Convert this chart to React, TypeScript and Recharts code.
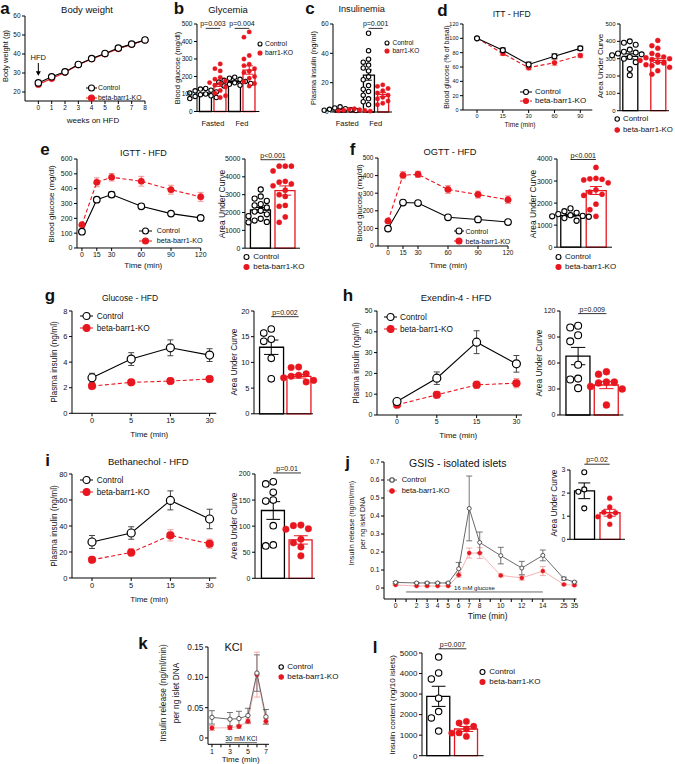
import React from "react";
import {
  LineChart,
  ComposedChart,
  Line,
  Bar,
  Cell,
  Scatter,
  XAxis,
  YAxis,
  ErrorBar,
  ReferenceLine,
  ReferenceDot,
} from "recharts";

const RED = "#e8161f";
const PINK = "#f2a0a0";
const INK = "#111";
const FONT = '"Liberation Sans", Arial, sans-serif';

// a - body weight
const weeks = [0, 1, 2, 3, 4, 5, 6, 7, 8];
const bwControl = [24.8, 28.0, 30.6, 34.5, 37.6, 40.3, 43.1, 45.2, 47.4];
const bwControlSem = [0.6, 0.6, 0.7, 0.8, 0.8, 0.9, 1.0, 1.0, 1.1];
const bwKO = [23.9, 27.1, 30.3, 34.3, 37.4, 40.0, 42.8, 45.0, 47.3];
const bwKOSem = [0.5, 0.6, 0.6, 0.7, 0.8, 0.9, 0.9, 1.0, 1.1];
const hfdArrow = [35.3, 29.2];

// b - glycemia
const feedState = ["Fasted", "Fed"];
const glyFastedControl = [132, 128, 122, 118, 112, 106, 100, 96, 90, 86, 80, 74];
const glyFastedKO = [272, 245, 232, 195, 185, 175, 165, 160, 150, 140, 120, 105, 90, 80];
const glyFedControl = [196, 190, 184, 178, 172, 168, 164, 160, 155, 150, 146];
const glyFedKO = [455, 425, 320, 300, 270, 262, 245, 230, 222, 200, 190, 170, 160, 145];
const glyMean = [100, 157, 170, 237];
const glySem = [6, 14, 5, 24];

// c - insulinemia
const insFastedControl = [3.5, 2.8, 2.2, 1.8, 1.5, 1.2, 1.0];
const insFastedKO = [2.2, 1.8, 1.5, 1.2, 1.0, 0.8, 0.6];
const insFedControl = [53.7, 41.8, 36, 34, 32, 30, 28, 24, 22, 18, 15.5, 14, 11.5, 9, 7, 5];
const insFedKO = [18.5, 17.5, 16, 14.5, 13, 11.5, 10, 9, 7.5, 6, 5];
const insMean = [2, 1.4, 25.2, 12];
const insSem = [0.4, 0.3, 3.5, 1.4];

// d - ITT
const ittTime = ["0", "15", "30", "60", "90"];
const ittControl = [100, 83.5, 63.5, 75, 86];
const ittControlSem = [0, 3, 3.5, 3.5, 3];
const ittKO = [100, 79, 59, 66, 76];
const ittKOSem = [0, 3, 3, 4, 3];
const ittAucControl = [400, 392, 380, 352, 340, 335, 330, 325, 320, 310, 300, 280, 240, 205];
const ittAucKO = [405, 375, 360, 330, 320, 310, 305, 300, 295, 290, 280, 275, 265, 260, 250, 230, 210];
const ittAucMean = [313, 290];
const ittAucSem = [15, 12];

// e - IGTT
const gttTime = [0, 15, 30, 60, 90, 120];
const igttControl = [110, 326, 360, 281, 232, 203];
const igttControlSem = [8, 15, 18, 15, 12, 8];
const igttKO = [157, 443, 477, 450, 393, 345];
const igttKOSem = [10, 30, 25, 33, 30, 30];
const igttAucControl = [3290, 2900, 2780, 2650, 2470, 2400, 2280, 2100, 2050, 1900, 1800, 1650, 1550, 1470, 1450];
const igttAucKO = [4600, 4600, 4600, 4330, 3750, 3700, 3600, 3500, 3250, 3000, 2900, 2400, 2350, 1750, 1450];
const igttAucMean = [2140, 3230];
const igttAucSem = [140, 260];

// f - OGTT
const ogttControl = [99, 247, 244, 163, 151, 136];
const ogttControlSem = [5, 6, 6, 6, 6, 5];
const ogttKO = [142, 402, 407, 321, 292, 263];
const ogttKOSem = [8, 20, 18, 22, 20, 22];
const ogttAucControl = [1760, 1630, 1560, 1500, 1450, 1420, 1400, 1380, 1320, 1200];
const ogttAucKO = [3620, 3120, 3100, 3080, 3050, 2920, 2600, 2500, 2400, 2350, 1950, 1700, 1400];
const ogttAucMean = [1430, 2570];
const ogttAucSem = [50, 180];

// g, h, i - insulin secretion in vivo
const stimTime = ["0", "5", "15", "30"];
const glcControl = [2.78, 4.24, 5.12, 4.55];
const glcControlSem = [0.35, 0.5, 0.62, 0.5];
const glcKO = [2.13, 2.42, 2.52, 2.68];
const glcKOSem = [0.08, 0.08, 0.08, 0.08];
const glcAucControl = [16.5, 15.7, 14.5, 14.1, 10.8, 6.8];
const glcAucKO = [9.1, 9.0, 7.8, 7.5, 7.3, 7.0, 6.5, 6.2];
const glcAucMean = [12.95, 7.3];
const glcAucSem = [1.4, 0.35];

const exControl = [6.5, 17.7, 35, 24.6];
const exControlSem = [1, 3, 5.5, 4];
const exKO = [4.9, 9.7, 14.5, 15.3];
const exKOSem = [1, 1.5, 1.8, 2.2];
const exAucControl = [103, 101, 92, 85, 58, 42, 41, 31];
const exAucKO = [50, 47, 38, 38, 37, 33, 30, 11.5];
const exAucMean = [68, 34.6];
const exAucSem = [10, 4.2];

const bethControl = [27.7, 34.6, 59.7, 45.4];
const bethControlSem = [5, 4.8, 7.3, 7.5];
const bethKO = [14, 19.7, 32.8, 26.4];
const bethKOSem = [1.8, 2.8, 4.3, 3.5];
const bethAucControl = [185, 181, 165, 150, 148, 101, 64, 62];
const bethAucKO = [102, 101, 95, 94, 75, 68, 60, 43];
const bethAucMean = [130, 73.6];
const bethAucSem = [17, 8];

// j - GSIS isolated islets
const gsisTime = [0, 2, 3, 4, 5, 6, 7, 8, 10, 12, 14, 25, 35];
const gsisLate = [25, 35];
const gsisControl = [0.031, 0.028, 0.028, 0.028, 0.028, 0.107, 0.442, 0.253, 0.18, 0.111, 0.181, 0.052, 0.033];
const gsisControlSem = [0.005, 0.004, 0.004, 0.004, 0.004, 0.035, 0.18, 0.058, 0.046, 0.037, 0.03, 0.008, 0.005];
const gsisKO = [0.017, 0.011, 0.011, 0.011, 0.011, 0.072, 0.194, 0.194, 0.07, 0.056, 0.094, 0.02, 0.015];
const gsisKOSem = [0.003, 0.002, 0.002, 0.002, 0.002, 0.012, 0.028, 0.03, 0.008, 0.012, 0.025, 0.004, 0.004];
const gsisAucControl = [2.9, 2.16, 2.06, 1.34];
const gsisAucKO = [1.78, 1.4, 1.17, 1.15, 1.0, 0.98, 0.65];
const gsisAucMean = [2.1, 1.15];
const gsisAucSem = [0.34, 0.15];
const glucoseWindow = [1, 14];

// k - KCl
const kclTime = [1, 3, 4, 5, 6, 7];
const kclControl = [0.034, 0.031, 0.032, 0.037, 0.107, 0.035];
const kclControlSem = [0.011, 0.011, 0.012, 0.012, 0.03, 0.012];
const kclKO = [0.0165, 0.017, 0.019, 0.0275, 0.1045, 0.0275];
const kclKOSem = [0.004, 0.003, 0.003, 0.004, 0.037, 0.005];
const kclWindow = [2.5, 6];

// l - insulin content
const contentControl = [4800, 4030, 3740, 2800, 2150, 1840, 1200];
const contentKO = [1670, 1590, 1430, 1300, 1110, 1100, 940];
const contentMean = [2890, 1300];
const contentSem = [490, 120];

type Frame = { x: number; y: number; w: number; h: number };
type Row = { x: number | string; c: number; ce: number; k: number; ke: number };
type Grp = { pos: number; vals: number[]; mean: number; sem: number; ko?: boolean };
type Bracket = { x1: number; x2: number; y: number; text: string };

const L = 40;
const T = 14;
const R = 16;
const B = 30;

const rowsOf = (x: (number | string)[], c: number[], ce: number[], k: number[], ke: number[]): Row[] =>
  x.map((v, i) => ({ x: v, c: c[i], ce: ce[i], k: k[i], ke: ke[i] }));

const twoGroups = (c: number[], k: number[], mean: number[], sem: number[]): Grp[] => [
  { pos: 1, vals: c, mean: mean[0], sem: sem[0] },
  { pos: 2, vals: k, mean: mean[1], sem: sem[1], ko: true },
];

const brokenAxis = (t: number) => (t <= 14 ? t : 16 + gsisLate.indexOf(t));
const gsisTicks = [0, 1, 2, 3, 4, 5, 6, 7, 8, 9, 10, 11, 12, 13, 14, 16, 17];
const gsisLabel = (v: number) => {
  const i = gsisTime.map(brokenAxis).indexOf(v);
  return i < 0 ? "" : String(gsisTime[i]);
};

// beeswarm-like slots so that overlapping points sit side by side
function spread(vals: number[], tol: number): number[] {
  const order = [0, -1, 1, -2, 2, -3, 3, -4, 4];
  const slots: number[] = [];
  vals.forEach((v) => {
    const taken = slots.filter((_, j) => Math.abs(vals[j] - v) < tol);
    slots.push(order.find((s) => !taken.includes(s)) ?? 0);
  });
  return slots;
}

const size = (f: Frame) => ({
  width: f.w + L + R,
  height: f.h + T + B,
  margin: { top: T, right: R, bottom: 0, left: 0 },
});

function At({ f, children }: { f: Frame; children: React.ReactNode }) {
  return <div style={{ position: "absolute", left: f.x - L, top: f.y - T }}>{children}</div>;
}

const yAxis = (domain: [number, number], ticks: number[], fs: number, fmt?: (v: number) => string, pad = 0) => (
  <YAxis
    type="number"
    domain={domain}
    ticks={ticks}
    interval={0}
    width={L}
    tickSize={3}
    tickMargin={1.5}
    padding={{ top: 0, bottom: pad }}
    tick={{ fontSize: fs, fill: INK }}
    tickFormatter={fmt}
    axisLine={{ stroke: "#000" }}
    tickLine={{ stroke: "#000" }}
  />
);

const bracketLines = (list: Bracket[] | undefined, fs = 7) =>
  (list ?? []).map((b, i) => (
    <ReferenceLine
      key={"br" + i}
      segment={[
        { x: b.x1, y: b.y },
        { x: b.x2, y: b.y },
      ]}
      stroke="#000"
      strokeWidth={0.8}
      ifOverflow="visible"
      label={{ value: b.text, position: "top", fontSize: fs, fill: INK, offset: 2 }}
    />
  ));

type LineProps = {
  f: Frame;
  rows: Row[];
  cat?: boolean;
  pad?: { left: number; right: number };
  xDomain?: [number, number];
  xTicks?: number[];
  xFmt?: (v: any) => string;
  xFs?: number;
  yDomain: [number, number];
  yTicks: number[];
  yFmt?: (v: number) => string;
  yPad?: number;
  fs: number;
  r: number;
  koDash?: boolean;
  thin?: boolean;
  children?: React.ReactNode;
};

function LinePanel(p: LineProps) {
  const cCol = p.thin ? "#444" : "#000";
  const kCol = p.thin ? PINK : RED;
  const sw = p.thin ? 0.8 : 1.1;
  return (
    <At f={p.f}>
      <LineChart {...size(p.f)} data={p.rows}>
        <XAxis
          dataKey="x"
          type={p.cat ? "category" : "number"}
          scale={p.cat ? "point" : "auto"}
          domain={p.cat ? undefined : p.xDomain}
          ticks={p.xTicks}
          padding={p.cat ? p.pad : undefined}
          interval={0}
          height={B}
          tickSize={3}
          tickMargin={1.5}
          tick={{ fontSize: p.xFs ?? p.fs, fill: INK }}
          tickFormatter={p.xFmt}
          axisLine={{ stroke: "#000" }}
          tickLine={{ stroke: "#000" }}
        />
        {yAxis(p.yDomain, p.yTicks, p.fs, p.yFmt, p.yPad ?? 0)}
        {p.children}
        <Line
          dataKey="k"
          stroke={kCol}
          strokeWidth={sw}
          strokeDasharray={p.koDash ? "4 2.5" : undefined}
          dot={{ r: p.r, fill: RED, stroke: RED, strokeWidth: 0.5 }}
          activeDot={false}
          isAnimationActive={false}
        >
          <ErrorBar dataKey="ke" direction="y" width={3} stroke={p.thin ? PINK : "#f08a8a"} strokeWidth={0.9} />
        </Line>
        <Line
          dataKey="c"
          stroke={cCol}
          strokeWidth={sw}
          dot={{ r: p.r, fill: "#fff", stroke: cCol, strokeWidth: p.thin ? 0.9 : 1.2 }}
          activeDot={false}
          isAnimationActive={false}
        >
          <ErrorBar dataKey="ce" direction="y" width={3} stroke={p.thin ? "#666" : "#333"} strokeWidth={0.9} />
        </Line>
      </LineChart>
    </At>
  );
}

const dotShape = (r: number, ko: boolean) => (s: any) => (
  <circle
    cx={s.cx + (s.payload?.dx ?? 0)}
    cy={s.cy}
    r={r}
    fill={ko ? RED : "#fff"}
    stroke={ko ? RED : "#000"}
    strokeWidth={ko ? 0.4 : 1.1}
  />
);
const blank = () => <g />;

type DotBarProps = {
  f: Frame;
  groups: Grp[];
  xDomain: [number, number];
  yDomain: [number, number];
  yTicks: number[];
  fs: number;
  r: number;
  barSize: number;
  cat?: { ticks: number[]; labels: string[]; fs: number };
  brackets?: Bracket[];
};

function DotBar(p: DotBarProps) {
  const step = p.r * 2 + 0.9;
  const tol = (step * (p.yDomain[1] - p.yDomain[0])) / p.f.h;
  const pts = (ko: boolean) =>
    p.groups
      .filter((g) => !!g.ko === ko)
      .flatMap((g) => {
        const slots = spread(g.vals, tol);
        return g.vals.map((v, i) => ({ p: g.pos, v, dx: slots[i] * step }));
      });
  const means = (ko: boolean) =>
    p.groups.filter((g) => !!g.ko === ko).map((g) => ({ p: g.pos, m: g.mean, e: g.sem }));
  const bars = p.groups.map((g) => ({ p: g.pos, m: g.mean }));
  const cat = p.cat;
  return (
    <At f={p.f}>
      <ComposedChart {...size(p.f)} data={bars}>
        <XAxis
          dataKey="p"
          type="number"
          domain={p.xDomain}
          height={B}
          ticks={cat ? cat.ticks : []}
          interval={0}
          tick={cat ? { fontSize: cat.fs, fill: INK } : false}
          tickFormatter={(v: number) => (cat ? cat.labels[cat.ticks.indexOf(v)] ?? "" : "")}
          tickLine={false}
          tickMargin={3}
          axisLine={{ stroke: "#000" }}
        />
        {yAxis(p.yDomain, p.yTicks, p.fs)}
        <Bar dataKey="m" barSize={p.barSize} fill="#fff" isAnimationActive={false}>
          {p.groups.map((g, i) => (
            <Cell key={i} stroke={g.ko ? RED : "#000"} strokeWidth={1.3} />
          ))}
        </Bar>
        <Scatter data={pts(false)} dataKey="v" shape={dotShape(p.r, false)} isAnimationActive={false} />
        <Scatter data={pts(true)} dataKey="v" shape={dotShape(p.r, true)} isAnimationActive={false} />
        <Scatter data={means(false)} dataKey="m" shape={blank} isAnimationActive={false}>
          <ErrorBar dataKey="e" direction="y" width={p.barSize * 0.3} stroke="#000" strokeWidth={1} />
        </Scatter>
        <Scatter data={means(true)} dataKey="m" shape={blank} isAnimationActive={false}>
          <ErrorBar dataKey="e" direction="y" width={p.barSize * 0.3} stroke={RED} strokeWidth={1} />
        </Scatter>
        {bracketLines(p.brackets)}
      </ComposedChart>
    </At>
  );
}

function Txt(p: { x: number; y: number; fs: number; children: React.ReactNode; bold?: boolean; rot?: boolean; lh?: number }) {
  return (
    <div
      style={{
        position: "absolute",
        left: p.x,
        top: p.y,
        transform: `translate(-50%,-50%)${p.rot ? " rotate(-90deg)" : ""}`,
        fontSize: p.fs,
        fontWeight: p.bold ? 700 : 400,
        whiteSpace: "nowrap",
        lineHeight: p.lh ? `${p.lh}px` : 1,
        textAlign: "center",
      }}
    >
      {p.children}
    </div>
  );
}

function Key(p: { cx: number; cy: number; tx: number; text: string; ko?: boolean; w?: number; r?: number; fs?: number; dash?: boolean; thin?: boolean }) {
  const r = p.r ?? 2.5;
  const w = p.w ?? 0;
  const mw = Math.max(w, r * 2 + 2);
  const col = p.ko ? RED : p.thin ? "#444" : "#000";
  return (
    <>
      <svg style={{ position: "absolute", left: p.cx - mw / 2, top: p.cy - 6 }} width={mw} height={12}>
        {w > 0 && (
          <line x1={0} x2={mw} y1={6} y2={6} stroke={p.ko && p.thin ? PINK : col} strokeWidth={1} strokeDasharray={p.dash ? "3 2" : undefined} />
        )}
        <circle cx={mw / 2} cy={6} r={r} fill={p.ko ? RED : "#fff"} stroke={col} strokeWidth={1.1} />
      </svg>
      <div style={{ position: "absolute", left: p.tx, top: p.cy, transform: "translateY(-50%)", fontSize: p.fs ?? 8, whiteSpace: "nowrap", lineHeight: 1 }}>
        {p.text}
      </div>
    </>
  );
}

const Keys = (x: { cx: number; cy: number[]; tx: number; w?: number; r?: number; fs?: number; dash?: boolean; thin?: boolean; short?: boolean }) => (
  <>
    <Key cx={x.cx} cy={x.cy[0]} tx={x.tx} text="Control" w={x.w} r={x.r} fs={x.fs} thin={x.thin} />
    <Key cx={x.cx} cy={x.cy[1]} tx={x.tx} text={x.short ? "barr1-KO" : "beta-barr1-KO"} ko w={x.w} r={x.r} fs={x.fs} dash={x.dash} thin={x.thin} />
  </>
);

const arrowHead = (s: any) => <path d={`M${s.cx - 2.5},${s.cy - 4.5} L${s.cx + 2.5},${s.cy - 4.5} L${s.cx},${s.cy} Z`} fill="#000" />;

const step = (a: number, b: number, d: number) => Array.from({ length: Math.round((b - a) / d) + 1 }, (_, i) => +(a + i * d).toFixed(3));

export default function App() {
  return (
    <div
      style={{
        position: "absolute",
        left: 0,
        top: 0,
        width: 675,
        height: 764,
        background: "#fff",
        color: INK,
        fontFamily: FONT,
        overflow: "hidden",
      }}
    >
      {/* a */}
      <Txt x={5} y={8} fs={17} bold>a</Txt>
      <Txt x={87} y={10} fs={9.5}>Body weight</Txt>
      <LinePanel
        f={{ x: 24.5, y: 16, w: 120, h: 85 }}
        rows={rowsOf(weeks, bwControl, bwControlSem, bwKO, bwKOSem)}
        xDomain={[-1, 8]}
        xTicks={weeks}
        yDomain={[20, 60]}
        yTicks={[20, 30, 40, 50, 60]}
        yPad={9}
        fs={6.5}
        r={3.2}
      >
        <ReferenceLine
          segment={[
            { x: 0, y: hfdArrow[0] },
            { x: 0, y: hfdArrow[1] },
          ]}
          stroke="#000"
          ifOverflow="visible"
          label={{ value: "HFD", position: "top", fontSize: 7.5, fill: INK, offset: 3 }}
        />
        <ReferenceDot x={0} y={hfdArrow[1] - 0.6} ifOverflow="visible" shape={arrowHead} />
      </LinePanel>
      <Txt x={5.5} y={56} fs={7.5} rot>Body weight (g)</Txt>
      <Txt x={93} y={121} fs={8}>weeks on HFD</Txt>
      <Keys cx={91} cy={[88, 98]} tx={98} w={11} r={3} fs={6.8} />

      {/* b */}
      <Txt x={179} y={8} fs={17} bold>b</Txt>
      <Txt x={228} y={10} fs={9.5}>Glycemia</Txt>
      <DotBar
        f={{ x: 197.3, y: 24, w: 62.4, h: 87.5 }}
        groups={[
          { pos: 1, vals: glyFastedControl, mean: glyMean[0], sem: glySem[0] },
          { pos: 2, vals: glyFastedKO, mean: glyMean[1], sem: glySem[1], ko: true },
          { pos: 3, vals: glyFedControl, mean: glyMean[2], sem: glySem[2] },
          { pos: 4, vals: glyFedKO, mean: glyMean[3], sem: glySem[3], ko: true },
        ]}
        xDomain={[0.4, 4.7]}
        yDomain={[0, 500]}
        yTicks={step(0, 500, 100)}
        fs={6.5}
        r={2.2}
        barSize={12}
        cat={{ ticks: [1.5, 3.5], labels: feedState, fs: 7.5 }}
        brackets={[
          { x1: 1, x2: 2, y: 475, text: "p=0.003" },
          { x1: 3, x2: 4, y: 475, text: "p=0.004" },
        ]}
      />
      <Txt x={177.5} y={68} fs={7.5} rot>Blood glucose (mg/dl)</Txt>
      <Keys cx={260} cy={[44.3, 53.3]} tx={265} r={2} fs={6.8} short />

      {/* c */}
      <Txt x={310} y={8} fs={17} bold>c</Txt>
      <Txt x={361.7} y={10} fs={9.2}>Insulinemia</Txt>
      <DotBar
        f={{ x: 333, y: 24, w: 59, h: 88 }}
        groups={[
          { pos: 1, vals: insFastedControl, mean: insMean[0], sem: insSem[0] },
          { pos: 2, vals: insFastedKO, mean: insMean[1], sem: insSem[1], ko: true },
          { pos: 3, vals: insFedControl, mean: insMean[2], sem: insSem[2] },
          { pos: 4, vals: insFedKO, mean: insMean[3], sem: insSem[3], ko: true },
        ]}
        xDomain={[0.5, 4.65]}
        yDomain={[0, 60]}
        yTicks={[0, 20, 40, 60]}
        fs={6.5}
        r={2.2}
        barSize={11}
        cat={{ ticks: [1.5, 3.5], labels: feedState, fs: 7.5 }}
        brackets={[{ x1: 3, x2: 4, y: 57, text: "p=0.001" }]}
      />
      <Txt x={314} y={68} fs={7.5} rot>Plasma insulin (ng/ml)</Txt>
      <Keys cx={386.7} cy={[43.3, 50.7]} tx={392.5} r={2} fs={6.5} short />

      {/* d */}
      <Txt x={442.5} y={10} fs={17} bold>d</Txt>
      <Txt x={511.7} y={14} fs={8.6}>ITT - HFD</Txt>
      <LinePanel
        f={{ x: 462.7, y: 24, w: 129.3, h: 86 }}
        rows={rowsOf(ittTime, ittControl, ittControlSem, ittKO, ittKOSem)}
        cat
        pad={{ left: 14, right: 12 }}
        yDomain={[0, 120]}
        yTicks={step(0, 120, 20)}
        fs={5.5}
        r={2.5}
        koDash
      />
      <Txt x={446} y={67} fs={7} rot>Blood glucose (% of basal)</Txt>
      <Txt x={520} y={125} fs={6.5}>Time (min)</Txt>
      <Keys cx={526} cy={[92, 101]} tx={535} w={12} r={2.5} fs={8} dash />
      <DotBar
        f={{ x: 620, y: 24.3, w: 49, h: 86.7 }}
        groups={twoGroups(ittAucControl, ittAucKO, ittAucMean, ittAucSem)}
        xDomain={[0.65, 2.4]}
        yDomain={[0, 500]}
        yTicks={step(0, 500, 100)}
        fs={6}
        r={2.5}
        barSize={15}
      />
      <Txt x={601} y={66} fs={8} rot>Area Under Curve</Txt>
      <Keys cx={617} cy={[119, 130]} tx={623} r={2.2} fs={7.8} />

      {/* e */}
      <Txt x={45} y={149} fs={17} bold>e</Txt>
      <Txt x={143.3} y={153.3} fs={9}>IGTT - HFD</Txt>
      <LinePanel
        f={{ x: 77.3, y: 159.3, w: 123.7, h: 89 }}
        rows={rowsOf(gttTime, igttControl, igttControlSem, igttKO, igttKOSem)}
        xDomain={[-5, 120]}
        xTicks={gttTime}
        yDomain={[0, 600]}
        yTicks={step(0, 600, 100)}
        fs={7}
        r={3.3}
        koDash
      />
      <Txt x={52} y={204} fs={8} rot>Blood glucose (mg/dl)</Txt>
      <Txt x={143.3} y={265.7} fs={8}>Time (min)</Txt>
      <Keys cx={145} cy={[231, 240.7]} tx={156.7} w={13} r={3} fs={7.2} dash />
      <DotBar
        f={{ x: 245, y: 159.3, w: 55, h: 89.2 }}
        groups={twoGroups(igttAucControl, igttAucKO, igttAucMean, igttAucSem)}
        xDomain={[0.36, 2.6]}
        yDomain={[0, 5000]}
        yTicks={step(0, 5000, 1000)}
        fs={7}
        r={2.6}
        barSize={20}
        brackets={[{ x1: 1, x2: 2, y: 4960, text: "p<0.001" }]}
      />
      <Txt x={221.7} y={204} fs={8.5} rot>Area Under Curve</Txt>
      <Keys cx={246.7} cy={[256.7, 266.7]} tx={253.3} r={2.5} fs={8} />

      {/* f */}
      <Txt x={352.5} y={149} fs={17} bold>f</Txt>
      <Txt x={450} y={153.3} fs={9.3}>OGTT - HFD</Txt>
      <LinePanel
        f={{ x: 378.3, y: 158.3, w: 130, h: 88 }}
        rows={rowsOf(gttTime, ogttControl, ogttControlSem, ogttKO, ogttKOSem)}
        xDomain={[-10, 120]}
        xTicks={gttTime}
        yDomain={[0, 500]}
        yTicks={step(0, 500, 100)}
        fs={6.5}
        r={3.3}
        koDash
      />
      <Txt x={360} y={203} fs={8} rot>Blood glucose (mg/dl)</Txt>
      <Txt x={448.3} y={265.7} fs={8}>Time (min)</Txt>
      <Keys cx={459} cy={[231, 240.7]} tx={465.5} w={10} r={3} fs={7} dash />
      <DotBar
        f={{ x: 556.7, y: 159.3, w: 55, h: 88.2 }}
        groups={twoGroups(ogttAucControl, ogttAucKO, ogttAucMean, ogttAucSem)}
        xDomain={[0.47, 2.63]}
        yDomain={[0, 4000]}
        yTicks={step(0, 4000, 1000)}
        fs={7}
        r={2.6}
        barSize={20}
        brackets={[{ x1: 1, x2: 2, y: 3977, text: "p<0.001" }]}
      />
      <Txt x={532.5} y={204} fs={8.5} rot>Area Under Curve</Txt>
      <Keys cx={558.3} cy={[256.7, 266.7]} tx={565} r={2.5} fs={8} />

      {/* g */}
      <Txt x={50} y={295} fs={17} bold>g</Txt>
      <Txt x={130} y={297.7} fs={8.5}>Glucose - HFD</Txt>
      <LinePanel
        f={{ x: 71.7, y: 311, w: 144.3, h: 102.3 }}
        rows={rowsOf(stimTime, glcControl, glcControlSem, glcKO, glcKOSem)}
        cat
        pad={{ left: 20, right: 6.7 }}
        yDomain={[0, 8]}
        yTicks={[0, 2, 4, 6, 8]}
        fs={7.5}
        r={4}
        koDash
      />
      <Txt x={54} y={362} fs={8.3} rot>Plasma insulin (ng/ml)</Txt>
      <Txt x={149.3} y={435} fs={8}>Time (min)</Txt>
      <Keys cx={86.7} cy={[316, 328.3]} tx={96.7} w={13} r={3.5} fs={8.3} dash />
      <DotBar
        f={{ x: 254, y: 310.5, w: 58.9, h: 102.8 }}
        groups={twoGroups(glcAucControl, glcAucKO, glcAucMean, glcAucSem)}
        xDomain={[0.37, 2.52]}
        yDomain={[0, 20]}
        yTicks={[0, 5, 10, 15, 20]}
        fs={7.5}
        r={3.3}
        barSize={24}
        brackets={[{ x1: 1, x2: 2, y: 18.9, text: "p=0.002" }]}
      />
      <Txt x={234} y={362} fs={8.3} rot>Area Under Curve</Txt>

      {/* h */}
      <Txt x={348} y={295} fs={17} bold>h</Txt>
      <Txt x={456} y={297.7} fs={9.5}>Exendin-4 - HFD</Txt>
      <LinePanel
        f={{ x: 376.7, y: 310.5, w: 145, h: 104 }}
        rows={rowsOf(stimTime, exControl, exControlSem, exKO, exKOSem)}
        cat
        pad={{ left: 20, right: 5.6 }}
        yDomain={[0, 50]}
        yTicks={step(0, 50, 10)}
        fs={7}
        r={4}
        koDash
      />
      <Txt x={356} y={362.5} fs={8.3} rot>Plasma insulin (ng/ml)</Txt>
      <Txt x={458.3} y={435.7} fs={8}>Time (min)</Txt>
      <Keys cx={390} cy={[316.7, 329.3]} tx={400} w={13} r={3.5} fs={8.3} dash />
      <DotBar
        f={{ x: 560, y: 311, w: 63.4, h: 104 }}
        groups={twoGroups(exAucControl, exAucKO, exAucMean, exAucSem)}
        xDomain={[0.36, 2.6]}
        yDomain={[0, 120]}
        yTicks={[0, 30, 60, 90, 120]}
        fs={7}
        r={3.5}
        barSize={24}
        brackets={[{ x1: 1, x2: 2, y: 117, text: "p=0.009" }]}
      />
      <Txt x={539} y={362.5} fs={8.3} rot>Area Under Curve</Txt>

      {/* i */}
      <Txt x={47.5} y={460} fs={17} bold>i</Txt>
      <Txt x={148.3} y={462.3} fs={9.5}>Bethanechol - HFD</Txt>
      <LinePanel
        f={{ x: 71.7, y: 474.3, w: 144.3, h: 104 }}
        rows={rowsOf(stimTime, bethControl, bethControlSem, bethKO, bethKOSem)}
        cat
        pad={{ left: 20, right: 6.7 }}
        yDomain={[0, 80]}
        yTicks={step(0, 80, 20)}
        fs={7.5}
        r={4}
        koDash
      />
      <Txt x={53.5} y={526} fs={8.3} rot>Plasma insulin (ng/ml)</Txt>
      <Txt x={149.3} y={600} fs={8}>Time (min)</Txt>
      <Keys cx={86.7} cy={[480, 492.3]} tx={96.7} w={13} r={3.5} fs={8.3} dash />
      <DotBar
        f={{ x: 255, y: 474, w: 60, h: 104.3 }}
        groups={twoGroups(bethAucControl, bethAucKO, bethAucMean, bethAucSem)}
        xDomain={[0.34, 2.51]}
        yDomain={[0, 200]}
        yTicks={step(0, 200, 50)}
        fs={7}
        r={3.3}
        barSize={23}
        brackets={[{ x1: 1, x2: 2, y: 202, text: "p=0.01" }]}
      />
      <Txt x={234} y={526} fs={8.3} rot>Area Under Curve</Txt>

      {/* j */}
      <Txt x={347.5} y={462} fs={17} bold>j</Txt>
      <Txt x={457.7} y={462.8} fs={10.5}>GSIS - isolated islets</Txt>
      <LinePanel
        f={{ x: 384.3, y: 462.3, w: 192.5, h: 137 }}
        rows={rowsOf(gsisTime.map(brokenAxis), gsisControl, gsisControlSem, gsisKO, gsisKOSem)}
        xDomain={[-1.1, 17.2]}
        xTicks={gsisTicks}
        xFmt={gsisLabel}
        yDomain={[0, 0.7]}
        yTicks={step(0, 0.7, 0.1)}
        yFmt={(v) => (v === 0 ? "0" : v.toFixed(1))}
        yPad={11}
        fs={6.7}
        r={2}
        thin
      >
        <ReferenceLine
          segment={[
            { x: glucoseWindow[0], y: -0.022 },
            { x: glucoseWindow[1], y: -0.022 },
          ]}
          stroke="#444"
          strokeWidth={0.8}
          ifOverflow="visible"
          label={{ value: "16 mM glucose", position: "top", fontSize: 6, fill: INK, offset: 1.5 }}
        />
      </LinePanel>
      <Txt x={356.5} y={523.3} fs={7.2} rot lh={11}>
        Insulin release (ng/ml/min)
        <br />
        per ng islet DNA
      </Txt>
      <Txt x={487.7} y={615.7} fs={8.4}>Time (min)</Txt>
      <Keys cx={391.7} cy={[480, 490.7]} tx={401.7} w={10} r={2.2} fs={7.5} thin />
      <DotBar
        f={{ x: 570, y: 470, w: 55, h: 69.3 }}
        groups={twoGroups(gsisAucControl, gsisAucKO, gsisAucMean, gsisAucSem)}
        xDomain={[0.44, 2.6]}
        yDomain={[0, 3]}
        yTicks={[0, 1, 2, 3]}
        fs={7}
        r={2.5}
        barSize={20}
        brackets={[{ x1: 1, x2: 2, y: 3.25, text: "p=0.02" }]}
      />
      <Txt x={553.5} y={503} fs={8.3} rot>Area Under Curve</Txt>

      {/* k */}
      <Txt x={143} y={643} fs={17} bold>k</Txt>
      <Txt x={233.3} y={647.3} fs={11}>KCl</Txt>
      <LinePanel
        f={{ x: 208.3, y: 646.7, w: 61, h: 97.3 }}
        rows={rowsOf(kclTime, kclControl, kclControlSem, kclKO, kclKOSem)}
        xDomain={[0.56, 7.34]}
        xTicks={[1, 2, 3, 4, 5, 6, 7]}
        xFmt={(v) => (v % 2 ? String(v) : "")}
        xFs={7.2}
        yDomain={[0, 0.15]}
        yTicks={[0, 0.05, 0.1, 0.15]}
        yFmt={(v) => (v === 0 ? "0" : v.toFixed(2))}
        yPad={6.3}
        fs={8.3}
        r={2.2}
        thin
      >
        <ReferenceLine
          segment={[
            { x: kclWindow[0], y: -0.0076 },
            { x: kclWindow[1], y: -0.0076 },
          ]}
          stroke="#444"
          strokeWidth={0.8}
          ifOverflow="visible"
          label={{ value: "30 mM KCl", position: "top", fontSize: 6.5, fill: INK, offset: 1.5 }}
        />
      </LinePanel>
      <Txt x={170} y={693} fs={8.3} rot lh={13}>
        Insulin release (ng/ml/min)
        <br />
        per ng islet DNA
      </Txt>
      <Txt x={240.7} y={760} fs={8}>Time (min)</Txt>
      <Keys cx={281} cy={[666.7, 677.3]} tx={287.3} r={2.2} fs={8} />

      {/* l */}
      <Txt x={375} y={646.5} fs={17} bold>l</Txt>
      <DotBar
        f={{ x: 421.7, y: 653.3, w: 61.6, h: 102.7 }}
        groups={twoGroups(contentControl, contentKO, contentMean, contentSem)}
        xDomain={[0.4, 2.62]}
        yDomain={[0, 5000]}
        yTicks={step(0, 5000, 1000)}
        fs={8}
        r={3.2}
        barSize={23}
        brackets={[{ x1: 1, x2: 2, y: 5205, text: "p=0.007" }]}
      />
      <Txt x={393} y={705} fs={8} rot>Insulin content (ng/10 islets)</Txt>
      <Keys cx={482.7} cy={[671.7, 682.3]} tx={489.3} r={2.5} fs={8} />
    </div>
  );
}
